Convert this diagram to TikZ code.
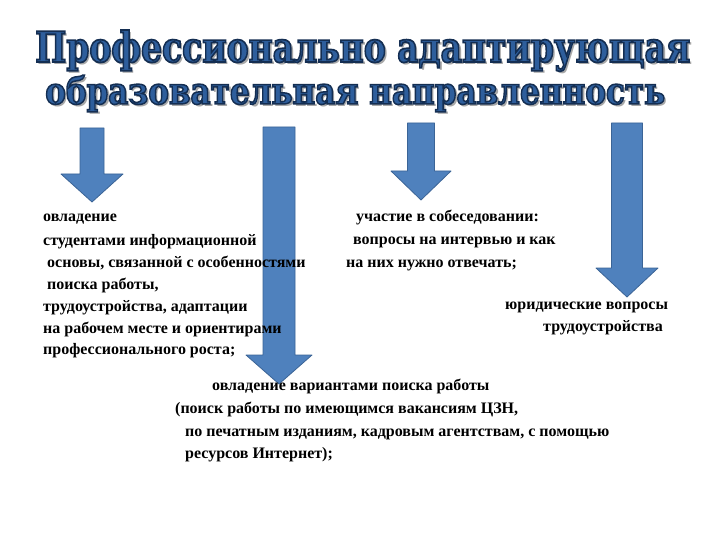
\documentclass[tikz,border=0pt]{standalone}
\usepackage{fontspec}
\setmainfont{Liberation Serif}
\newfontfamily\titlefont{DejaVu Serif Condensed}
\usepackage{graphicx}
\definecolor{arrowblue}{HTML}{4F81BD}
\definecolor{arrowedge}{HTML}{3B6496}
\definecolor{titlefill}{HTML}{2E5E9C}
\definecolor{titleedge}{HTML}{152E52}
\definecolor{titleshadow}{HTML}{A8A8A8}
\newcommand\outl[1]{\special{pdf:literal direct 2 Tr 2.0 w 0.08 0.18 0.32 RG}#1\special{pdf:literal direct 0 Tr}}
\newcommand\ttlone{\resizebox{655pt}{32pt}{\fontsize{50}{50}\selectfont\titlefont\bfseries Профессионально адаптирующая}}
\newcommand\ttltwo{\resizebox{620pt}{29pt}{\fontsize{50}{50}\selectfont\titlefont\bfseries образовательная направленность}}
\newcommand\shadowed[1]{\rlap{\hspace{2.5pt}\raisebox{-2.5pt}{\color{titleshadow}#1}}\outl{#1}}
\newcommand\blockarr[7]{% cx, top, shaft w, head w, head start, tip, name
  \fill[arrowblue, draw=arrowedge, line width=0.8pt, line join=round]
    (#1-#3/2,#2) -- (#1+#3/2,#2) -- (#1+#3/2,#5) -- (#1+#4/2,#5) -- (#1,#6)
    -- (#1-#4/2,#5) -- (#1-#3/2,#5) -- cycle;
  \coordinate (#7) at (#1,#6);}
\begin{document}
\begin{tikzpicture}[x=1pt,y=-1pt,
  body/.style={anchor=base west, inner sep=0pt, font=\fontsize{16}{18}\selectfont\bfseries, text=black},
  ttl/.style={anchor=base west, inner sep=0pt, text=titlefill}]
\useasboundingbox (0,0) rectangle (720,540);
\fill[white] (0,0) rectangle (720,540);
% title
\node[ttl] (t1) at (35,62) {\shadowed{\ttlone}};
\node[ttl] (t2) at (45,104) {\shadowed{\ttltwo}};
% arrows
\blockarr{92}{128}{24}{62}{174}{202}{a1}
\blockarr{279}{127}{32}{66}{355}{384}{a2}
\blockarr{421}{123}{27}{60}{171}{200}{a3}
\blockarr{627}{123}{31}{62}{268}{297}{a4}
% left block
\node[body] (l1) at (43,222) {овладение};
\node[body] (l2) at (43,245) {студентами информационной};
\node[body] (l3) at (47,267) {основы, связанной с особенностями};
\node[body] (l4) at (47,289) {поиска работы,};
\node[body] (l5) at (43,311) {трудоустройства, адаптации};
\node[body] (l6) at (43,333) {на рабочем месте и ориентирами};
\node[body] (l7) at (43,354) {профессионального роста;};
% middle right block
\node[body] (m1) at (356,222) {участие в собеседовании:};
\node[body] (m2) at (353,244) {вопросы на интервью и как};
\node[body] (m3) at (346,267) {на них нужно отвечать;};
% right block
\node[body] (r1) at (505,309) {юридические вопросы};
\node[body] (r2) at (543,331) {трудоустройства};
% bottom block
\node[body] (b1) at (212,390) {овладение вариантами поиска работы};
\node[body] (b2) at (175,413) {(поиск работы по имеющимся вакансиям ЦЗН,};
\node[body] (b3) at (185,436) {по печатным изданиям, кадровым агентствам, с помощью};
\node[body] (b4) at (185,458) {ресурсов Интернет);};
\end{tikzpicture}
\end{document}
